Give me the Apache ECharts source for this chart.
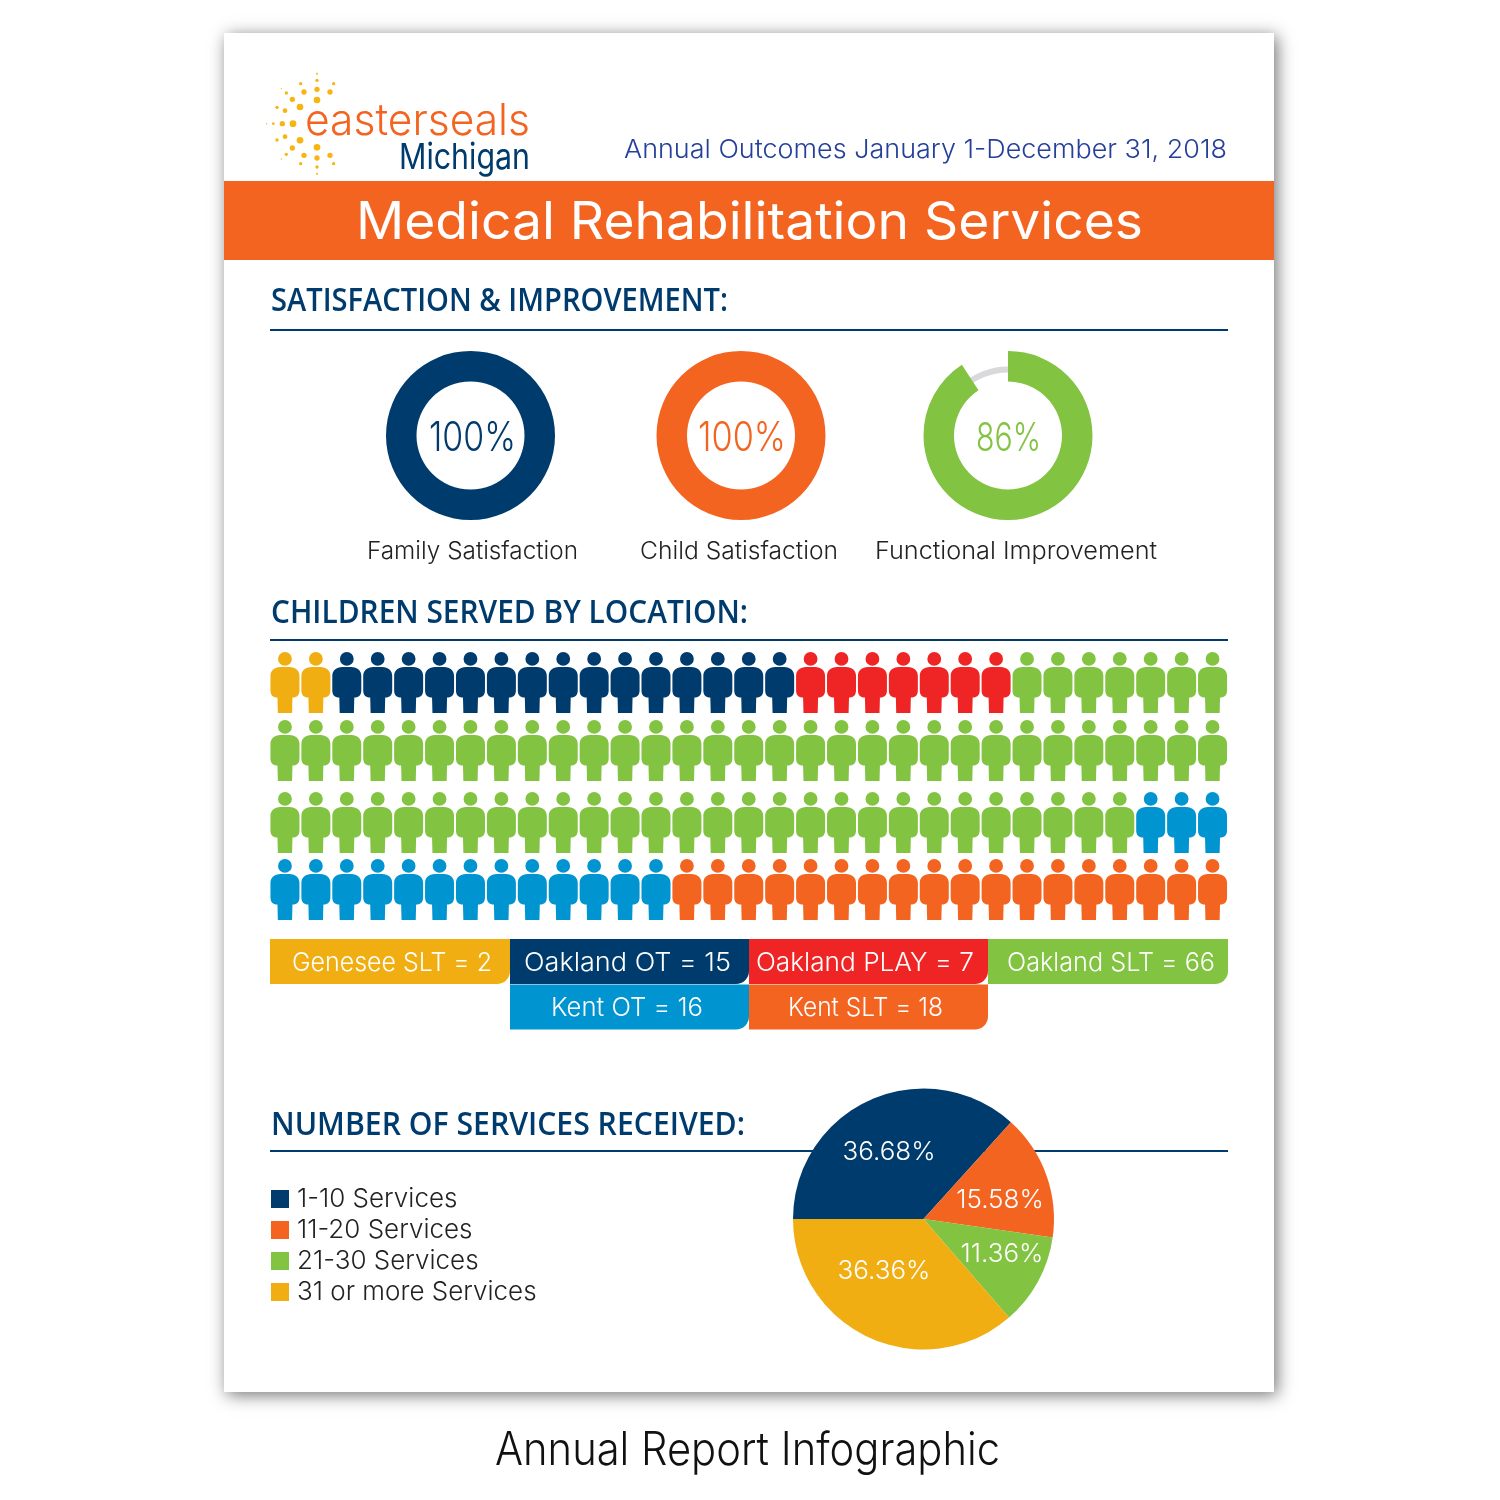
<!DOCTYPE html>
<html><head><meta charset="utf-8">
<style>html,body{margin:0;padding:0;background:#fff}#c{width:1500px;height:1500px}</style>
<script src="https://cdn.jsdelivr.net/npm/echarts@6/dist/echarts.min.js"></script>
</head><body><div id="c"></div>
<script>
// ---- data ----
const locationNames = ['Genesee SLT','Oakland OT','Oakland PLAY','Oakland SLT','Kent OT','Kent SLT'];
const locationCounts = [2,15,7,66,16,18];
const ringNames = ['Family Satisfaction','Child Satisfaction','Functional Improvement'];
const ringLabels = ['100%','100%','86%'];
const ringArc = [100,100,90.8];
const serviceNames = ['1-10 Services','11-20 Services','21-30 Services','31 or more Services'];
const serviceShares = [36.68,15.58,11.36,36.36];
// ---- style ----
const NAVY='#003b6e',ORANGE='#f36421',GREEN='#82c341',YELLOW='#f0ae13',RED='#ee2524',BLUE='#0095d0',GREY='#d9d9dc',TXT='#222';
const locationColors=[YELLOW,NAVY,RED,GREEN,BLUE,ORANGE];
const ringColors=[NAVY,ORANGE,GREEN];
const serviceColors=[NAVY,ORANGE,GREEN,YELLOW];
const LIGHT='300 {s}px Inter', HEAD='600 {s}px "Open Sans"';
const PERSON='path://M14.5 0A6.900 6.900 0 1 1 14.49 0ZM10 15L19 15C25 15 29 18.500 29 24L29 38.500C29 43 26.500 45.500 22.200 45.500L22 45.500L21.600 61L7.400 61L7 45.500L6.800 45.500C2.500 45.500 0 43 0 38.500L0 24C0 18.500 4 15 10 15Z';

const cv=document.createElement('canvas').getContext('2d');
function label(text,left,right,cy,size,fill,fontT,z){
  const font=(fontT||LIGHT).replace('{s}',size);
  cv.font=font;
  const w=cv.measureText(text).width;
  return {type:'text',x:left,y:cy,scaleX:(right-left)/w,z:z||10,silent:true,
    style:{text,x:0,y:0,fill,font,align:'left',verticalAlign:'middle'}};
}
function rect(x,y,w,h,fill,r,z,extra){
  return Object.assign({type:'rect',shape:{x,y,width:w,height:h,r:r||0},style:{fill},z:z||1,silent:true},extra||{});
}
// ---- page furniture ----
const g=[];
g.push(rect(224,33,1050,1359,'#fff',0,0,{style:{fill:'#fff',shadowColor:'rgba(0,0,0,0.55)',shadowBlur:16,shadowOffsetX:3,shadowOffsetY:3}}));
g.push(rect(224,181,1050,79,ORANGE));
[330,640,1151].forEach(y=>g.push(rect(270,y-1,958,2,NAVY)));
// logo sunburst (cx, cy, r in 3x crop pixels, mirrored about the horizontal)
const dots=[[204,120,10],[204,88,8],[204,61,5],[204,41,3],[153,141,10],[130,118,8],[112,99,5],[97,85,2],[165,96,8],[155,71,5],[243,96,8],[254,71,5],[108,152,7],[84,142,5]];
const axisDots=[[132,191,10],[100,191,8],[73,191,4],[53,191,2]];
dots.concat(dots.map(d=>[d[0],382-d[1],d[2]])).concat(axisDots).forEach(d=>{
  g.push({type:'circle',shape:{cx:250+d[0]/3-1,cy:60+d[1]/3,r:d[2]/3},style:{fill:'#f7b512'},z:2,silent:true});
});
g.push(label('easterseals',305,530,122,44,ORANGE,'300 {s}px Inter'));
g.push(label('Michigan',399,530,158,36,NAVY,'400 {s}px Inter'));
g.push(label('Annual Outcomes January 1-December 31, 2018',624,1227,150,26,'#25409a'));
g.push(label('Medical Rehabilitation Services',356,1143,223,52,'#fff','400 {s}px Inter'));
g.push(label('SATISFACTION & IMPROVEMENT:',271,728,302,32,NAVY,HEAD));
g.push(label('CHILDREN SERVED BY LOCATION:',271,748,614,32,NAVY,HEAD));
g.push(label('NUMBER OF SERVICES RECEIVED:',271,745,1126,32,NAVY,HEAD));
// ring captions
const ringCx=[470.5,741,1008], ringPct=[[429,516,41],[698,786,41],[976,1041,39]], ringCap=[[367,578],[640,838],[875,1157]];
ringNames.forEach((n,i)=>{
  g.push(label(ringLabels[i],ringPct[i][0],ringPct[i][1],439,ringPct[i][2],ringColors[i]));
  g.push(label(n,ringCap[i][0],ringCap[i][1],552,24,TXT));
});
// location tabs
const tabs=[[270,939,240,45,[292,492],963.5],[510,939,239,45,[524,731],963.5],[749,939,239,45,[756,974],963.5],[988,939,240,45,[1007,1215],963.5],[510,984.5,239,45,[551,703],1008.5],[749,984.5,239,45,[788,943],1008.5]];
tabs.forEach((t,i)=>{
  g.push(rect(t[0],t[1],t[2],t[3],locationColors[i],[0,0,13,0],i>=4?4:(i===3?3:5)));
  g.push(label(locationNames[i]+' = '+locationCounts[i],t[4][0],t[4][1],t[5],26,'#fff',LIGHT,12));
});
g.push(label('Annual Report Infographic',495,1000,1451,46,'#111'));

// ---- people grids ----
const rowTops=[652,720,792,859], perRow=31;
const cols=Array.from({length:perRow},(_,i)=>i);
const grids=[],xAxes=[],yAxes=[],series=[];
rowTops.forEach((top,i)=>{
  grids.push({left:269.5,width:958.5,top,height:61});
  xAxes.push({type:'category',data:cols,gridIndex:i,show:false});
  yAxes.push({type:'value',min:-1,max:1,gridIndex:i,show:false});
});
let seq=0;
locationNames.forEach((name,li)=>{
  const byRow={};
  for(let k=0;k<locationCounts[li];k++,seq++){
    const r=Math.floor(seq/perRow);
    (byRow[r]=byRow[r]||[]).push([seq%perRow,0]);
  }
  Object.keys(byRow).forEach(r=>{
    series.push({type:'scatter',name,xAxisIndex:+r,yAxisIndex:+r,data:byRow[r],symbol:PERSON,symbolSize:[29,61],
      symbolKeepAspect:false,itemStyle:{color:locationColors[li],opacity:1},silent:true,animation:false});
  });
});
// ---- rings ----
ringArc.forEach((v,i)=>{
  if(v<100){
    series.push({type:'pie',silent:true,animation:false,center:[ringCx[i],435.5],radius:[63,69],label:{show:false},labelLine:{show:false},
      data:[{value:100,name:'track',itemStyle:{color:GREY}}]});
  }
  series.push({type:'pie',silent:true,animation:false,center:[ringCx[i],435.5],radius:[54,84.5],startAngle:90,label:{show:false},labelLine:{show:false},
    data:[{value:v,name:ringNames[i],itemStyle:{color:ringColors[i]}},{value:100-v,name:'rest',itemStyle:{color:'rgba(0,0,0,0)'}}]});
});
// ---- services pie ----
const pieLabelAt=[[889,1152],[1000,1200],[1002,1254],[884,1271]];
series.push({type:'pie',name:'Services',animation:false,silent:true,center:[923.5,1219],radius:[0,130.5],startAngle:180,z:3,
  data:serviceNames.map((n,i)=>({name:n,value:serviceShares[i],itemStyle:{color:serviceColors[i]}})),
  label:{show:true,position:'inside',formatter:p=>p.value.toFixed(2)+'%',color:'#fff',fontFamily:'Inter',fontWeight:300,fontSize:26},
  labelLine:{show:false},
  labelLayout:p=>({x:pieLabelAt[p.dataIndex][0],y:pieLabelAt[p.dataIndex][1],align:'center',verticalAlign:'middle'})});

const chart=echarts.init(document.getElementById('c'),null,{renderer:'canvas',width:1500,height:1500});
chart.setOption({
  backgroundColor:'#fff',animation:false,
  grid:grids,xAxis:xAxes,yAxis:yAxes,series,graphic:{elements:g},
  legend:{data:serviceNames,orient:'vertical',left:271,top:1186,padding:0,itemWidth:18,itemHeight:18,itemGap:5,icon:'rect',selectedMode:false,
    textStyle:{fontFamily:'Inter',fontWeight:300,fontSize:26,color:TXT,lineHeight:18,padding:[0,0,0,3]}}
});
</script></body></html>
